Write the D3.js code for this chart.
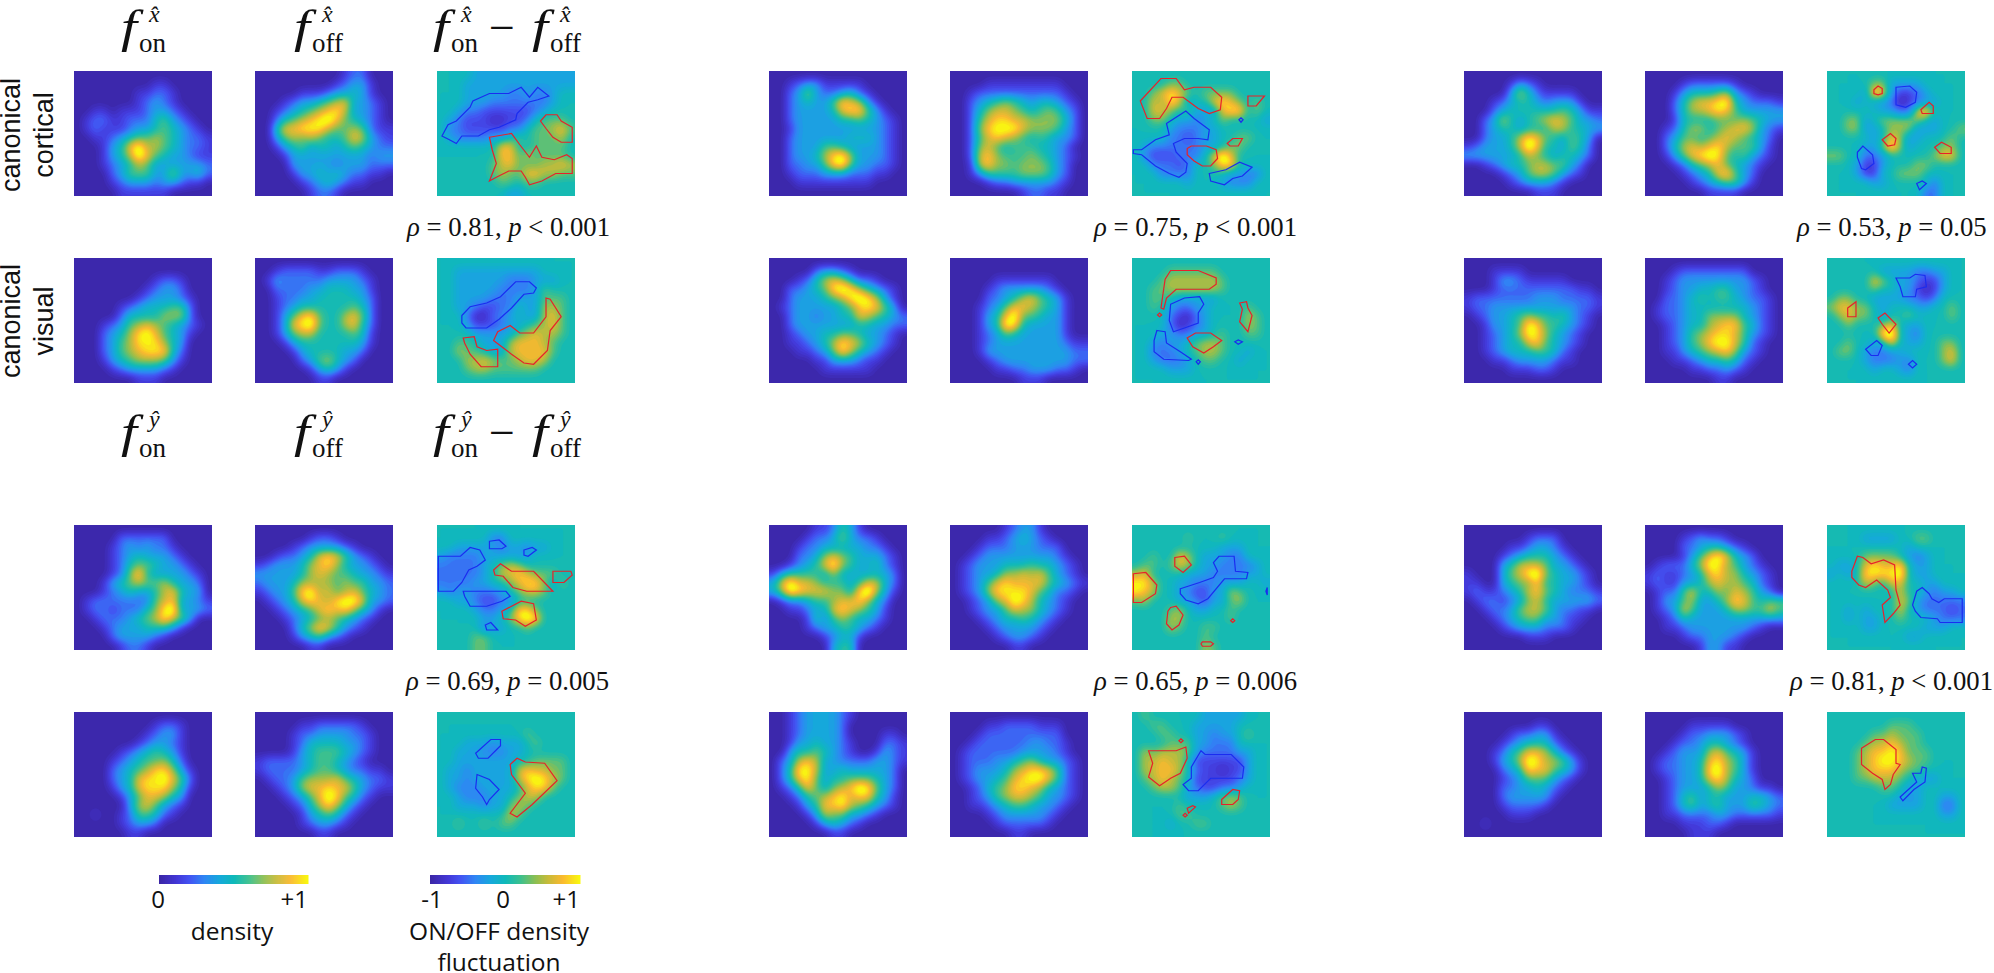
<!DOCTYPE html>
<html>
<head>
<meta charset="utf-8">
<script src="https://cdn.jsdelivr.net/npm/d3@7"></script>
<style>
  html, body { margin: 0; background: #fff; overflow: hidden; }
  .serif { font-family: "Liberation Serif", serif; fill: #111; }
  .sans { font-family: "Liberation Sans", sans-serif; fill: #111; }
  .legend { font-family: "Open Sans", sans-serif; fill: #111; }
</style>
</head>
<body>
<div id="vis"></div>
<script>
// density maps, one digit per cell (0 = empty, 9 = peak), diff maps have 5 = zero
const aCortOn = ["0000000000000000","0000000001100000","0000000112210000","0000000123210000","0011011123321000","0122112224532100","0121112334543210","0011234556543221","0001347966543221","0001346975433211","0001234653333332","0000235553363342","0000123332332110","0000011111100000"];
const aCortOff = ["0000000000122000","0000000001233100","0000011123343100","0001233456733210","0012345678633210","0024567897543210","0047788865565211","0035656544576321","0013453443454322","0001333333333233","0000333332333222","0000133434322110","0000012343211000","0000001221000000"];
const aCortDiff = ["5555444444444444","5554444444444444","5554444433433455","5554443333333455","5543322222234555","5432221122356665","5332222233566786","5433334456566675","5555555885566665","5555555886766665","5555556786667787","5555556766887766","5555555665665555","5555555544555555"];
const aVisOn = ["0000000000000000","0000000000000000","0000000001221000","0000000012332000","0000000123332100","0000012344455200","0000024444666200","0001235676543210","0002346897543100","0002356888643000","0002356788842000","0001345666531000","0000123333210000","0000000111000000"];
const aVisOff = ["0000000000000000","0012222112221000","0132222233332100","0022223344433100","0012233444443200","0012344444454200","0013578544675200","0013789544674200","0013566444454100","0001344444443100","0000134444332000","0000023564320000","0000001343100000","0000000110000000"];
const aVisDiff = ["5555555555555555","5544444444445555","5544444433344455","5544444333346555","5544443334446665","5544322335447765","5553113345447865","5554222344567865","5555444446787765","5566544478887655","5576654478888655","5557787667887555","5556776666665555","5555555555555555"];

const bCortOn = ["0000000000000000","0012331111100000","0023632234210000","0023433587631000","0023333478853100","0023333344543210","0013333333333210","0023333334443210","0023335543333210","0023346896333210","0022335895332210","0012223332221100","0001111111110000","0000000000000000"];
const bCortOff = ["0000000000000000","0000111111111000","0012222222222100","0023456543443210","0024677654565320","0025788776666420","0026899976665320","0025787654543320","0026754555443200","0027865556543210","0017866566653200","0013555566653200","0000122333332100","0000000012211000"];
const bCortDiff = ["5555555555555555","5555665555555555","5567876566665555","5576874557876565","5577656444788565","5566544345655554","5555433344555555","5555332344556655","5433333344566555","5322233357975555","5533323556885555","5553333555544335","5555554555433355","5555555555555555"];
const bVisOn = ["0000000000000000","0000023321000000","0001246764221000","0022345898643210","0023334568986310","0123333345787530","0023323344765432","0023333333443322","0012334455433210","0011234687643210","0001123586432100","0000011333211000","0000001111110000","0000000000000000"];
const bVisOff = ["0000000000000000","0000000000000000","0000011111110000","0000123333321000","0000223467543100","0001235776543100","0001347955433100","0001349843333100","0001235433333100","0001233333333211","0001333333333322","0000123333333322","0000011223332210","0000000011100000"];
const bVisDiff = ["5555555555555555","5555666666555555","5556777777655555","5566777777655555","5566544444555555","5565433445555655","5555321345555765","5555312345555765","5554433445655665","5543445677655555","5533345677655455","5543334566554555","5555444555555555","5555555555555555"];

const cCortOn = ["0000000000000000","0000013210000000","0000036421111000","0001234432333100","0002344444454311","0023643456765332","0023443444664433","0023346875435430","1233346974435420","3333334654344320","0012344566553200","0000123566532100","0000012333210000","0000000011100000"];
const cCortOff = ["0000000000000000","0000122222100000","0001344456321000","0002467789432221","0002466787533333","0001444455565433","0012466456776321","0023554567654320","0024676786555310","0013578985453210","0001245675432100","0000123478532000","0000012345531000","0000000111100000"];
const cCortDiff = ["5555555555555555","5555566444455555","5555487422345555","5554544312344555","5555554433785555","5566456666654555","5566445666444556","5555545764455565","5555446864555665","6655334555556775","5554224555665555","5554225566655555","5555544555553555","5555555555533555"];
const cVisOn = ["0000000000000000","0001111000000000","0001332111110000","0001222222222110","1222222233322221","1223333333333221","0123345655453210","0013345985543210","0012346986432100","0012344785432100","0012344455421000","0001123333211000","0000011122100000","0000000000000000"];
const cVisOff = ["0000000000000000","0001222222220000","0012333333332100","0012334455332100","0022345455432210","0122344444443210","0122344666643210","0012344678854210","0012356788753210","0012356899752100","0011345678632100","0001123445421000","0000011223210000","0000000011000000"];
const cVisDiff = ["5555555555555555","5555554444334455","5555576544322455","5555565544212455","5665544443323555","6776654555445565","5676654556555565","5565556754455555","5555558954355555","5565545754455665","5665433445555675","5555433343555675","5555545543555555","5555555555555555"];

const dCortOn = ["0000000000000000","0000022222200000","0000123232210000","0000123433321000","0000124554332100","0000125843333210","0001345655643320","0001234334674330","0122222225673321","0122122245893332","0012223456865300","0001233344431000","0000233332100000","0000012210000000"];
const dCortOff = ["0000000000000000","0000001221000000","0000123333210000","0012234787532100","1233346786433210","3333346765543321","2333466665655332","1233589675675432","0123478768997332","0012345787864310","0001234565432100","0000246875321000","0000134532100000","0000001100000000"];
const dCortDiff = ["5555555555555555","5555553355555555","5544444344344555","4333344444455555","3333345676555555","3333345778766655","3333445567886465","4344333456776555","5544322335555555","5555433458865555","5555544568985555","5555534455655555","5555665555555555","5555665555555555"];
const dVisOn = ["0000000000000000","0000000001221000","0000000012331000","0000000123321000","0000012345431000","0000123455642000","0000234568863100","0000234788975200","0000134788864100","0000013577643000","0000003675321000","0010012554210000","0000012332000000","0000001100000000"];
const dVisOff = ["0000000000000000","0000011222221000","0000122333322100","0000124444332100","0000134555432100","1222234554321000","1222234554322110","0122356667543221","0012367787753211","0001235798542100","0000124686421000","0000013454210000","0000012332100000","0000000110000000"];
const dVisDiff = ["5555555555555555","5555555555555555","5555555555655555","5554443444565555","5544433344555555","5544444445566665","5443444447877665","5443444447898765","5433344445788655","5543334456775555","5544434467655555","5555555576555555","5565565665555555","5555555555555555"];

const eCortOn = ["0000011243100000","0000122353221000","0001223333322100","0002235654333210","0012346854334210","1344443533333320","3686654443466320","3587666553795310","0122344566753200","0011233676543100","0000142454332100","0000123344321000","0000001233100000","0000000344000000"];
const eCortOff = ["0000001233100000","0000112343210000","0001222333222000","0012333333332100","0123334445443210","0123346676753210","0123578777754321","0123688887542210","0012367986432100","0012335766432100","0001234454321000","0000123333210000","0000012332100000","0000000110000000"];
const eCortDiff = ["5555555555555555","5555556555655555","5555555555444555","5565587544433555","5665687544333345","7855554443333445","9975544333444554","9875543224476555","6755544324467555","5555675445565555","5555775555565555","5555765566555555","5555555565555555","5555555576555555"];
const eVisOn = ["0012333321000000","0012333320000000","0012333320000110","0013343321000221","0034454321001321","0236763322223321","0248863343333320","0247853445554320","0124753567985320","0012456786774310","0001347786543210","0000136553321000","0000013432100000","0000000110000000"];
const eVisOff = ["0000000000000000","0000112222111000","0001222222222000","0012222223322100","0122222233332100","0122233456433210","0123334678875210","0123345789975210","0012456887643210","0012356776533210","0011234554332100","0000123333321000","0000012222210000","0000000110000000"];
const eVisDiff = ["5655555544444555","5566555444445555","5556655443445655","5555666443335555","5767776433334455","5778775222222455","5778875322122455","5678765222223455","5567764322334555","5555554445676555","5555565555676555","5555566555555555","5555455665555555","5555555555555555"];

const fCortOn = ["0000000000000000","0000000122200000","0000011233210000","0000123444321000","0000346665332100","1000356895433210","1100345574433210","1211234675432221","0122123564333332","0012235665322110","0001234553321100","0000123332221000","0000000111000000","0000000000000000"];
const fCortOff = ["0000000000000000","0000123221000000","0000223443210000","0000135797432000","0122246986532100","1211234786643210","1211334676654210","0122574465765320","0133563346875455","0123753334665575","0012433333333333","0011233333332100","0000122333210000","0000001331100000"];
const fCortDiff = ["5555555555555555","5555444455665555","5555555554555555","5555666654345555","5445787785445555","4545888895445555","5555765775544555","5555555575543445","5555555576433333","5545455575433323","5545445565554333","5555445555544455","5555555554455555","5555555555555555"];
const fVisOn = ["0000000000000000","0000000011000000","0000012233100000","0000123444210000","0001245776421000","0001346986653100","0000234877543100","0000123555321000","0000223343210000","0000233333100000","0000122221000000","0000011100000000","0010000000000000","0000000000000000"];
const fVisOff = ["0000000000000000","0000011111000000","0000122333210000","0001223443210000","0012333675431000","0122334786531000","0122334896531000","0012334786432000","0012333465332110","0012453443334432","0012453453335432","0011222233222221","0000111221000000","0000011100000000"];
const fVisDiff = ["5555555555555555","5555555666555555","5555566766655555","5555677876655555","5556788986665555","5556789987665555","5556788876655555","5556677765444555","5555556654455555","5555555544455445","5555555444455335","5555555555555445","5555555555555555","5555555555555555"];

// significance outlines on the diff maps, in percent of the map, [colour, x,y, x,y, ...]
const aCortLines = [
  ["b",3.6,52,8,43,14,40,24,29,26,24,38,18,52,18,61,13,67,21,73,13,81,20,73,23,66,25,58,34,57,39,45,45,38,47,30,52,18,52,14,58,9,55],
  ["r",79,35,87,35,90,40,98,45,98,57,90,57,84,53,79,46,75,40],
  ["r",38,53,54,50,60,59,67,69,72,60,76,69,85,71,94,67,98,70,98,82,86,82,76,88,67,91,64,85,61,80,52,80,43,85,38,88,43,74,40,63]];
const aVisLines = [
  ["b",18,46,24,39,36,36,46,31,57,19,67,19,72,24,70,28,63,29,54,40,45,49,36,56,21,56,18,52],
  ["r",79,32,82,33,90,47,82,58,80,74,70,85,63,84,54,77,41,66,44,59,53,54,60,60,70,60,79,47],
  ["r",19,64,27,63,29,71,36,74,44,73,44,87,32,87,24,77,20,68]];
const bCortLines = [
  ["r",6,24,21,6,32,6,38,15,45,13,57,13,65,21,64,31,56,34,48,30,37,21,29,21,25,30,20,38,11,38],
  ["r",84,20,96,20,90,28,84,28],
  ["b",77.5,39,79,37.5,80.5,39,79,41],
  ["r",69,58,73,54,80,54,77,60,71,60],
  ["r",40,62,43,60,54,60,61,63,62,70,57,76,51,76,45,72,40,67],
  ["b",25,42,39,32,45,38,56,47,55,55,48,54,38,54,30,58,32,65,40,74,39,81,34,85,27,82,17,76,7,67,1,66,1,63,7,63,17,55,27,51],
  ["b",56,82,68,79,78,73,87,77,80,84,73,86,67,91,57,88]];
const bVisLines = [
  ["r",21,40,24,17,28,10,48,10,61,16,61,21,56,25,32,25,25,32,23,41],
  ["b",28,37,38,32,49,31,52,37,48,44,48,52,38,56,30,59,27,50],
  ["r",18.5,45.5,20,44,21.5,45.5,20,47],
  ["r",78,36,83,35,84,40,87,46,84,59,78,51,80,41],
  ["r",40,64,46,60,57,60,65,66,59,71,52,76,44,71],
  ["b",18,58,24,59,25,68,35,75,43,81,41,82,23,81,16,75,16,66],
  ["b",74.5,67,77,65.5,80,67,77,69],
  ["b",46.5,83,48,81.5,49.5,83,48,85]];
const cCortLines = [
  ["r",34,15,37,12,40,14,40,18,37,19,34,18],
  ["b",50,13,60,12,65,17,64,25,57,29,50,27],
  ["r",68,31,74,25,77,28,77,34,69,34],
  ["r",40,55,46,50,50,54,49,59,44,60],
  ["r",78,61,83,57,90,61,90,66,82,66],
  ["b",22,65,26,60,33,67,34,74,28,79,25,78,22,69],
  ["b",65,90,69,88,72,90,67,95]];
const cVisLines = [
  ["b",50,16,60,16,64,13,71,14,72,23,65,25,64,31,55,31,53,23],
  ["r",15,40,21,35,21,47,15,47],
  ["r",37,48,42,44,50,53,45,60,40,53],
  ["b",28,73,36,66,40,70,37,78,32,78],
  ["b",59,85,62,82,65,85,62,88]];
const dCortLines = [
  ["b",1,25,17,25,24,18,31,20,35,28,29,33,23,36,18,46,12,53,1,53],
  ["b",38,13,45,12,50,17,47,19,38,19],
  ["b",63,20,69,18,72,20,66,25,63,24],
  ["r",41,36,46,31,54,37,70,37,84,53,65,53,55,50,48,41,42,40],
  ["r",84,37,97,37,98,40,92,46,84,46],
  ["b",19,53,50,53,53,57,47,61,36,65,24,65,20,57],
  ["r",47,69,61,61,70,63,72,76,64,81,57,76,48,75],
  ["b",35,80,39,78,44,84,36,84]];
const dVisLines = [
  ["b",28,33,39,22,46,22,46,27,37,37,30,37],
  ["b",29,50,38,54,45,62,38,70,36,74,33,68,28,61],
  ["r",53,42,58,37,64,40,78,41,87,55,69,74,58,84,53,81,64,65,54,50]];
const eCortLines = [
  ["r",1,39,10,38,18,48,17,55,7,62,1,62],
  ["r",31,26,38,25,43,32,37,38,31,33],
  ["b",35,51,49,46,59,42,62,37,59,30,63,25,74,25,75,37,84,38,83,43,67,43,55,59,48,63,39,60,35,55],
  ["b",98,50,97,53,98,56],
  ["r",28,66,32,65,37,72,34,80,29,84,25,79,26,69],
  ["r",71.5,76.5,73,75,74.5,76.5,73,78],
  ["r",50,95,51,93.5,57,93.5,59,95,57,97,51,97]];
const eVisLines = [
  ["r",12,31,32,31,39,28,40,37,35,49,28,53,20,59,12,52,15,41],
  ["b",43,44,50,31,53,34,72,34,81,44,80,53,57,53,48,63,41,63,37,58,43,53],
  ["r",34,23,35.5,21.5,37,23,35.5,24.5],
  ["r",65,70,73,62,78,63,77,70,73,74,65,74],
  ["r",40,77,44,75,46,76,41,81],
  ["r",37,82.5,38.5,81,40,82.5,38.5,84]];
const fCortLines = [
  ["r",18,37,22,25,26,26,32,31,41,28,49,32,50,52,53,64,48,71,42,78,40,64,46,58,44,52,36,44,28,50,23,48,18,42],
  ["b",62,64,65,53,69,50,74,55,76,59,81,62,85,59,98,59,98,78,82,78,80,75,68,74,64,69]];
const fVisLines = [
  ["r",25,29,35,22,41,22,50,30,50,41,53,42,48,50,46,58,42,62,40,54,33,49,25,42],
  ["b",53,68,63,58,65,56,62,49,68,49,69,44,72,45,71,56,63,62,55,71]];

const stats = ["0.81, p < 0.001","0.75, p < 0.001","0.53, p = 0.05","0.69, p = 0.005","0.65, p = 0.006","0.81, p < 0.001"];

const cmapStops = [0, 0.12, 0.2, 0.3, 0.4, 0.5, 0.6, 0.7, 0.78, 0.88, 1];
const cmapColors = ["#3b26a6","#4338d8","#4353f2","#2f86f4","#16a8dc","#0fb9b9","#3cc08e","#8cbf52","#c4bb3a","#fab92f","#f9fb0e"];

const width = 1994, height = 973;
const panelW = 138, panelH = 125;
const groupX = [74, 769, 1464];
const colOffset = [0, 181, 363];
const rowY = [71, 258, 525, 712];
const up = 4, pad = 2; // hi-res factor and padding (cells) for the smooth surface

const svg = d3.select("#vis").append("svg")
  .attr("width", width)
  .attr("height", height);

const cmap = d3.scaleLinear().domain(cmapStops).range(cmapColors).clamp(true);
const densityT = d3.scaleLinear().domain([0, 9]).range([0, 1]);
const diffValue = d3.scaleLinear().domain([0, 5, 9]).range([-1, 0, 1]);
const diffT = d3.scaleLinear().domain([-1, 1]).range([0, 1]);

const levels = d3.range(0, 9, 0.25);
const defs = svg.append("defs");
let clipId = 0;

function drawMap(rows, px, py, isDiff, lines) {
  const grid = rows.map(r => r.split("").map(Number));
  const m = grid.length, n = grid[0].length;
  const w = (n + 2 * pad) * up, h = (m + 2 * pad) * up;
  const base = isDiff ? 5 : 0;

  // nearest-neighbour copy of the grid, then blur it so the bands look like the smooth map
  const fine = new Float64Array(w * h);
  for (let j = 0; j < h; j++) {
    for (let i = 0; i < w; i++) {
      const cj = Math.max(0, Math.min(m - 1, Math.floor(j / up) - pad));
      const ci = Math.max(0, Math.min(n - 1, Math.floor(i / up) - pad));
      fine[j * w + i] = grid[cj][ci];
    }
  }
  const flat = grid.flat();
  const hi0 = d3.max(flat), lo0 = d3.min(flat);
  d3.blur2({data: fine, width: w, height: h}, 1.5);
  const hi1 = d3.max(fine), lo1 = d3.min(fine);
  // blur lowers the peaks, stretch them back to what the grid says
  const gainUp = hi1 > base ? (hi0 - base) / (hi1 - base) : 1;
  const gainDn = lo1 < base ? (lo0 - base) / (lo1 - base) : 1;
  for (let k = 0; k < fine.length; k++) {
    const v = fine[k] - base;
    fine[k] = base + v * (v > 0 ? gainUp : gainDn);
  }

  const x = d3.scaleLinear().domain([pad * up, (n + pad) * up]).range([px, px + panelW]);
  const y = d3.scaleLinear().domain([pad * up, (m + pad) * up]).range([py, py + panelH]);
  const path = d3.geoPath(d3.geoTransform({
    point(a, b) { this.stream.point(x(a), y(b)); }
  }));
  const color = v => isDiff ? cmap(diffT(diffValue(v))) : cmap(densityT(v));

  const id = "clip" + (clipId++);
  defs.append("clipPath").attr("id", id).append("rect")
    .attr("x", px).attr("y", py).attr("width", panelW).attr("height", panelH);

  const g = svg.append("g").attr("clip-path", `url(#${id})`);
  g.append("rect")
    .attr("x", px).attr("y", py).attr("width", panelW).attr("height", panelH)
    .attr("fill", color(lo0));
  g.selectAll("path")
    .data(d3.contours().size([w, h]).thresholds(levels)(fine))
    .enter().append("path")
    .attr("d", path)
    .attr("fill", d => color(d.value + 0.125));

  if (!lines) return;
  const lx = d3.scaleLinear().domain([0, 100]).range([px, px + panelW]);
  const ly = d3.scaleLinear().domain([0, 100]).range([py, py + panelH]);
  const line = d3.line().x(d => lx(d[0])).y(d => ly(d[1])).curve(d3.curveLinearClosed);
  lines.forEach(l => {
    const pts = d3.pairs(l.slice(1)).filter((p, i) => i % 2 === 0);
    g.append("path")
      .attr("d", line(pts))
      .attr("fill", "none")
      .attr("stroke", l[0] === "r" ? "#e8202a" : "#1a2cf0")
      .attr("stroke-width", 1.2);
  });
}

const table = [
  [[aCortOn, aCortOff, aCortDiff, aCortLines], [aVisOn, aVisOff, aVisDiff, aVisLines]],
  [[bCortOn, bCortOff, bCortDiff, bCortLines], [bVisOn, bVisOff, bVisDiff, bVisLines]],
  [[cCortOn, cCortOff, cCortDiff, cCortLines], [cVisOn, cVisOff, cVisDiff, cVisLines]],
  [[dCortOn, dCortOff, dCortDiff, dCortLines], [dVisOn, dVisOff, dVisDiff, dVisLines]],
  [[eCortOn, eCortOff, eCortDiff, eCortLines], [eVisOn, eVisOff, eVisDiff, eVisLines]],
  [[fCortOn, fCortOff, fCortDiff, fCortLines], [fVisOn, fVisOff, fVisDiff, fVisLines]]
];

table.forEach((group, gi) => {
  const gx = groupX[gi % 3];
  const top = gi < 3 ? 0 : 2;
  group.forEach((row, ri) => {
    const py = rowY[top + ri];
    drawMap(row[0], gx + colOffset[0], py, false);
    drawMap(row[1], gx + colOffset[1], py, false);
    drawMap(row[2], gx + colOffset[2], py, true, row[3]);
  });
});

// rho / p labels
const statX = [407, 1094, 1797, 406, 1094, 1790];
const statY = [236, 236, 236, 690, 690, 690];
stats.forEach((s, i) => {
  const parts = s.split(", p ");
  const t = svg.append("text").attr("class", "serif")
    .attr("x", statX[i]).attr("y", statY[i]).attr("font-size", 26.7);
  t.append("tspan").attr("font-style", "italic").text("\u03c1");
  t.append("tspan").text(" = " + parts[0] + ", ");
  t.append("tspan").attr("font-style", "italic").text("p");
  t.append("tspan").text(" " + parts[1]);
});

// column titles
function fTerm(x, y, sub, hat) {
  const g = svg.append("g").attr("class", "serif");
  g.append("text").attr("transform", `translate(${x + 6},${y}) scale(1.25,1)`).attr("font-size", 46)
    .attr("font-style", "italic").text("f");
  g.append("text").attr("x", x + 24).attr("y", y + 10).attr("font-size", 27).text(sub);
  g.append("text").attr("x", x + 34).attr("y", y - 20).attr("font-size", 24)
    .attr("font-style", "italic").text(hat);
}
const titleY = [42, 447];
const hats = ["x\u0302", "y\u0302"];
titleY.forEach((ty, i) => {
  fTerm(115, ty, "on", hats[i]);
  fTerm(288, ty, "off", hats[i]);
  fTerm(427, ty, "on", hats[i]);
  svg.append("text").attr("class", "serif").attr("x", 489).attr("y", ty + 1)
    .attr("font-size", 46).text("\u2212");
  fTerm(526, ty, "off", hats[i]);
});

// row labels
[[135, "canonical", "cortical"], [321, "canonical", "visual"]].forEach(d => {
  svg.append("text").attr("class", "sans").attr("font-size", 27).attr("text-anchor", "middle")
    .attr("transform", `translate(20,${d[0]}) rotate(-90)`).text(d[1]);
  svg.append("text").attr("class", "sans").attr("font-size", 27).attr("text-anchor", "middle")
    .attr("transform", `translate(53,${d[0]}) rotate(-90)`).text(d[2]);
});

// colour bars
function colorbar(x0, x1, domain, ticks, tickX, tickAnchor) {
  const s = d3.scaleLinear().domain(domain).range([x0, x1]);
  const t = d3.scaleLinear().domain(domain).range([0, 1]);
  const step = (domain[1] - domain[0]) / 150;
  svg.append("g").selectAll("rect")
    .data(d3.range(domain[0], domain[1], step))
    .enter().append("rect")
    .attr("x", d => s(d)).attr("y", 875)
    .attr("width", s(domain[0] + step) - s(domain[0]) + 0.5).attr("height", 9)
    .attr("fill", d => cmap(t(d)));
  ticks.forEach((tk, i) => {
    svg.append("text").attr("class", "legend").attr("font-size", 24)
      .attr("x", tickX[i]).attr("y", 908).attr("text-anchor", tickAnchor[i]).text(tk);
  });
}
colorbar(159, 308, [0, 1], ["0", "+1"], [158, 308], ["middle", "end"]);
colorbar(430, 580, [-1, 1], ["-1", "0", "+1"], [432, 503, 580], ["middle", "middle", "end"]);

[["density", 232, 940], ["ON/OFF density", 499, 940], ["fluctuation", 499, 971]].forEach(d => {
  svg.append("text").attr("class", "legend").attr("font-size", 24.5)
    .attr("x", d[1]).attr("y", d[2]).attr("text-anchor", "middle").text(d[0]);
});
</script>
</body>
</html>
